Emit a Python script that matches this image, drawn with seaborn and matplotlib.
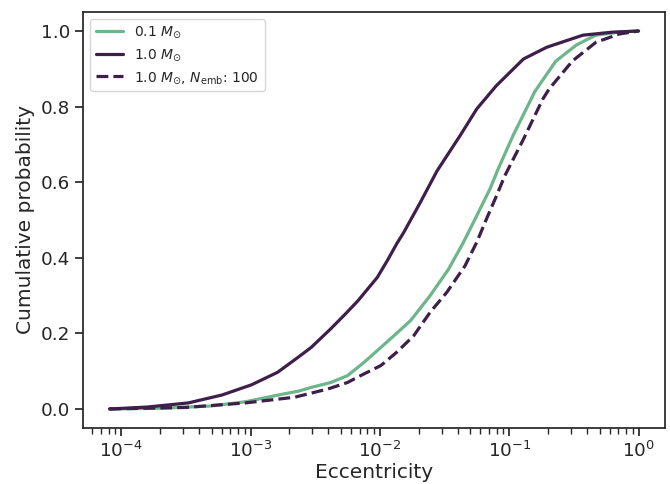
import numpy as np
import pandas as pd
import matplotlib
matplotlib.use("Agg")
import matplotlib.pyplot as plt
import seaborn as sns

# cumulative eccentricity distributions
ecc_01 = [8.13e-5, 2.09e-4, 5.01e-4, 9.12e-4, 1.82e-3, 2.34e-3, 2.95e-3, 4.17e-3,
          5.62e-3, 7.59e-3, 1.25e-2, 1.73e-2, 2.45e-2, 3.40e-2, 4.43e-2, 5.61e-2,
          7.10e-2, 8.22e-2, 0.107, 0.158, 0.229, 0.331, 0.468, 0.708, 1.0]
cdf_01 = [0.0, 0.002, 0.008, 0.019, 0.040, 0.047, 0.057, 0.070,
          0.088, 0.124, 0.190, 0.234, 0.300, 0.370, 0.441, 0.511,
          0.582, 0.635, 0.723, 0.840, 0.920, 0.963, 0.989, 0.997, 1.0]

ecc_10 = [8.13e-5, 1.58e-4, 3.31e-4, 6.03e-4, 1.02e-3, 1.62e-3, 2.34e-3, 2.95e-3,
          4.17e-3, 5.37e-3, 6.76e-3, 9.55e-3, 1.14e-2, 1.35e-2, 1.53e-2, 2.06e-2,
          2.77e-2, 3.72e-2, 4.17e-2, 5.62e-2, 7.94e-2, 0.129, 0.195, 0.372, 0.631, 1.0]
cdf_10 = [0.0, 0.005, 0.016, 0.037, 0.064, 0.097, 0.137, 0.163,
          0.212, 0.250, 0.286, 0.348, 0.392, 0.437, 0.467, 0.547,
          0.630, 0.697, 0.723, 0.794, 0.855, 0.926, 0.957, 0.989, 0.997, 1.0]

ecc_10_emb = [8.13e-5, 3.16e-4, 9.12e-4, 2.19e-3, 3.98e-3, 5.62e-3, 7.08e-3, 1.02e-2,
              1.35e-2, 1.83e-2, 2.45e-2, 3.30e-2, 4.56e-2, 5.61e-2, 6.68e-2, 7.98e-2,
              9.25e-2, 0.129, 0.182, 0.204, 0.309, 0.468, 0.708, 1.0]
cdf_10_emb = [0.0, 0.004, 0.016, 0.031, 0.053, 0.070, 0.088, 0.115,
              0.150, 0.194, 0.256, 0.309, 0.379, 0.441, 0.503, 0.564,
              0.617, 0.714, 0.820, 0.847, 0.921, 0.970, 0.992, 1.0]

labels = [r"0.1 $M_{\odot}$", r"1.0 $M_{\odot}$", r"1.0 $M_{\odot}$, $N_{\rm emb}$: 100"]
green = "#6db58a"
purple = "#3d1f4a"

sns.set_theme(style="ticks", context="notebook", font_scale=1.2)

fig, ax = plt.subplots(figsize=(6.7, 4.84), dpi=100)
fig.subplots_adjust(left=0.124, right=0.9925, top=0.975, bottom=0.116)

sns.lineplot(x=ecc_01, y=cdf_01, color=green, lw=2.3, label=labels[0], ax=ax)
sns.lineplot(x=ecc_10, y=cdf_10, color=purple, lw=2.3, label=labels[1], ax=ax)
sns.lineplot(x=ecc_10_emb, y=cdf_10_emb, color=purple, lw=2.3, ls="--",
             label=labels[2], ax=ax)

ax.set_xscale("log")
ax.set_xlabel("Eccentricity", fontsize=14.5, labelpad=1)
ax.set_ylabel("Cumulative probability", fontsize=14.5)
ax.legend(loc="upper left", fontsize=10)

fig.savefig("out.png", dpi=100)
